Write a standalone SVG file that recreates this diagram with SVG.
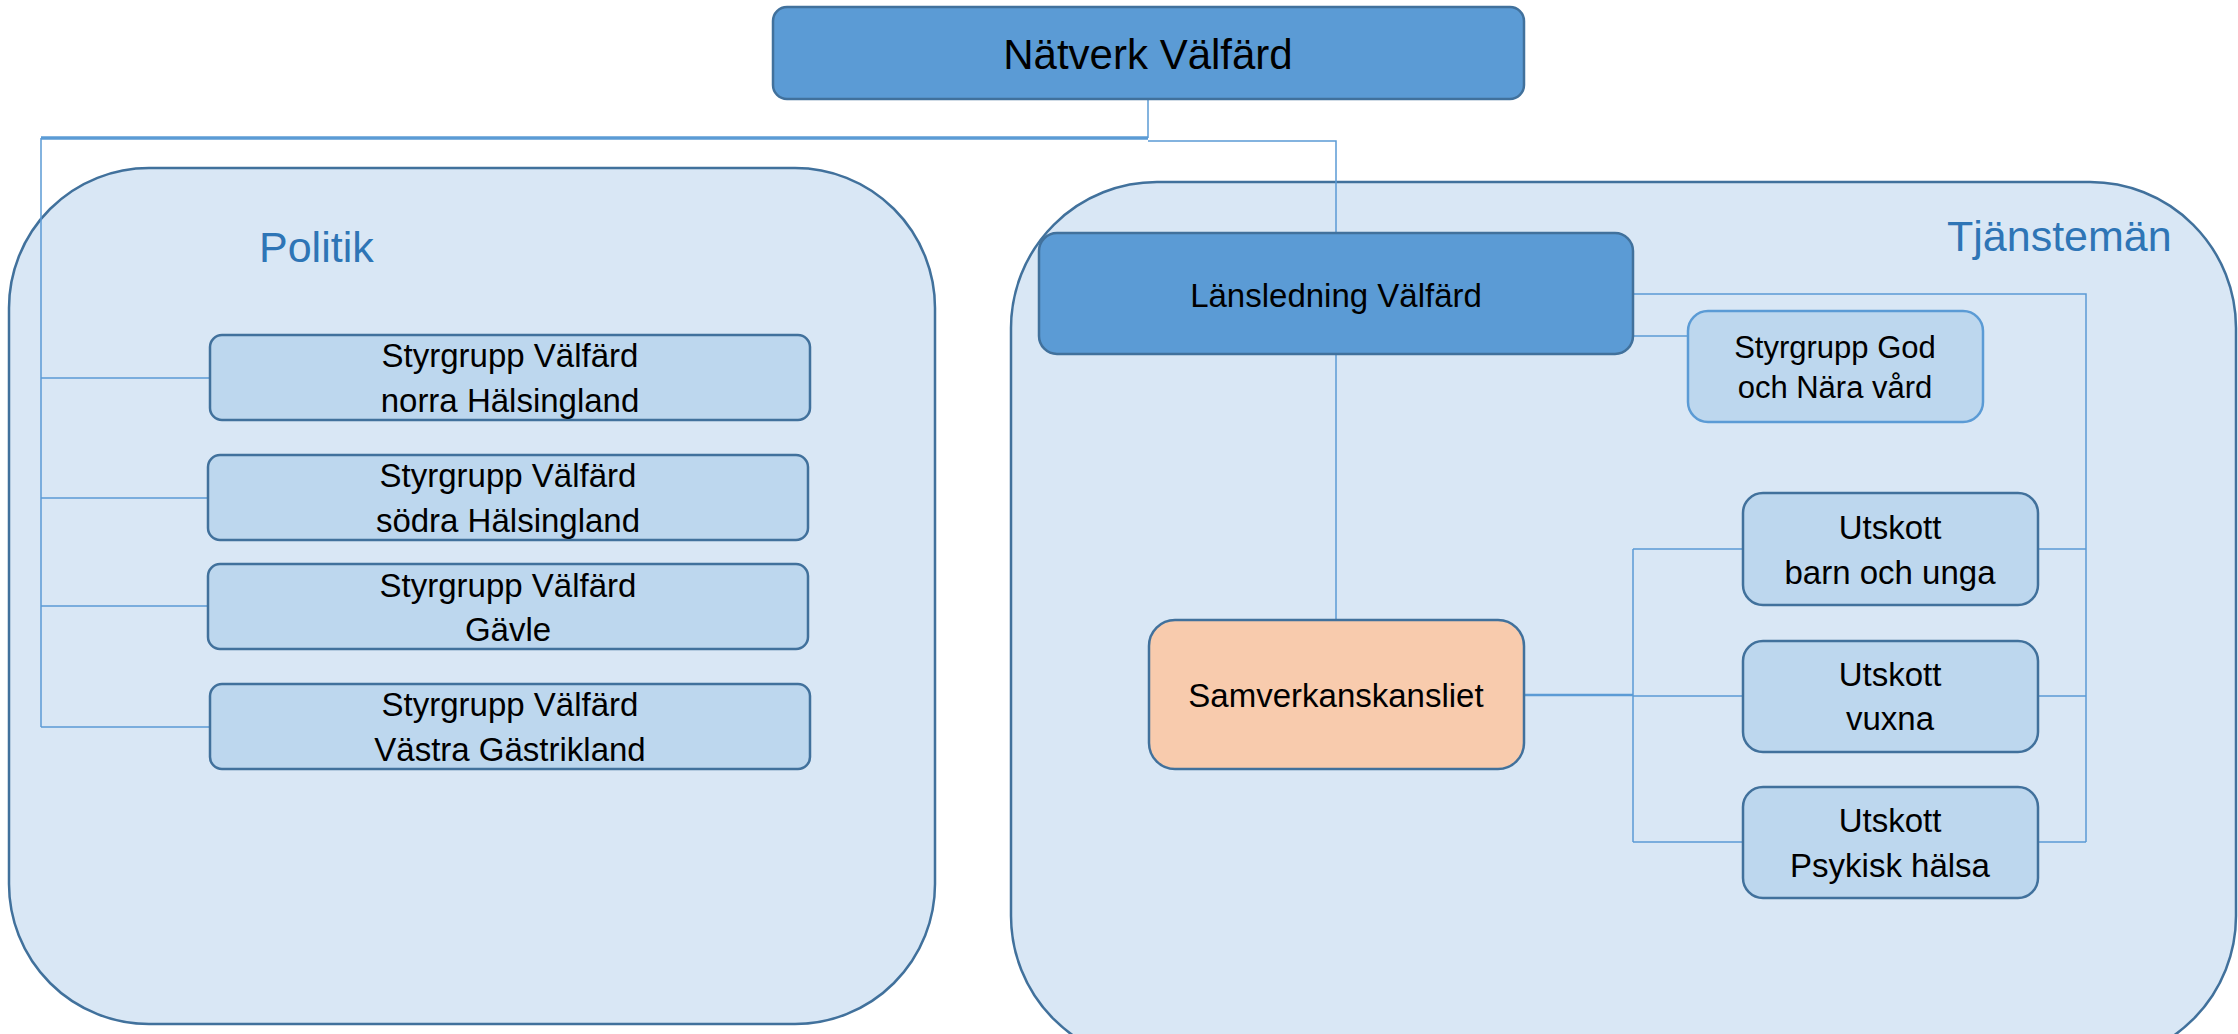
<svg xmlns="http://www.w3.org/2000/svg" width="2238" height="1034" viewBox="0 0 2238 1034">
<style>
.container{fill:#D9E7F5;stroke:#41719C;stroke-width:2.5}
.dark{fill:#5B9BD5;stroke:#41719C;stroke-width:2.5}
.light{fill:#BDD7EE;stroke:#41719C;stroke-width:2.5}
.lightb{fill:#BDD7EE;stroke:#5B9BD5;stroke-width:2.5}
.orange{fill:#F8CBAD;stroke:#41719C;stroke-width:2.5}
.conn{fill:none;stroke:#5B9BD5;stroke-width:1.5}
.t{font-family:"Liberation Sans",Arial,sans-serif;fill:#000;text-anchor:middle}
.hdr{font-family:"Liberation Sans",Arial,sans-serif;fill:#2E75B6;font-size:43px}
</style>
<rect width="2238" height="1034" fill="#FFFFFF"/>
<g id="politik">
<rect class="container" x="9" y="168" width="926" height="856" rx="140" ry="140"/>
<text class="hdr" x="259" y="262">Politik</text>
</g>
<g id="tjansteman">
<rect class="container" x="1011" y="182" width="1225" height="880" rx="146" ry="146"/>
<text class="hdr" x="1947" y="251">Tjänstemän</text>
</g>
<g id="connectors">
<path class="conn" d="M1148 99 V138" />
<path class="conn" style="stroke-width:3.5" d="M1148 138 H41"/>
<path class="conn" d="M41 138 V727 M41 378 H210 M41 498 H208 M41 606 H208 M41 727 H210"/>
<path class="conn" d="M1148 141 H1336 V233"/>
<path class="conn" d="M1336 354 V620"/>
<path class="conn" d="M1633 294 H2086 V842 M2038 549 H2086 M2038 696 H2086 M2038 842 H2086"/>
<path class="conn" d="M1633 336 H1688"/>
<path class="conn" style="stroke-width:2.5" d="M1524 695 H1633"/>
<path class="conn" d="M1633 549 V842 M1633 549 H1743 M1633 696 H1743 M1633 842 H1743"/>
</g>
<g id="natverk">
<rect class="dark" x="773" y="7" width="751" height="92" rx="14"/>
<text class="t" x="1148" y="69" font-size="42">Nätverk Välfärd</text>
</g>
<g id="lansledning">
<rect class="dark" x="1039" y="233" width="594" height="121" rx="18"/>
<text class="t" x="1336" y="307" font-size="33">Länsledning Välfärd</text>
</g>
<g id="sg-norra">
<rect class="light" x="210" y="335" width="600" height="85" rx="12"/>
<text class="t" x="510" y="367" font-size="33">Styrgrupp Välfärd</text>
<text class="t" x="510" y="412" font-size="33">norra Hälsingland</text>
</g>
<g id="sg-sodra">
<rect class="light" x="208" y="455" width="600" height="85" rx="12"/>
<text class="t" x="508" y="487" font-size="33">Styrgrupp Välfärd</text>
<text class="t" x="508" y="532" font-size="33">södra Hälsingland</text>
</g>
<g id="sg-gavle">
<rect class="light" x="208" y="564" width="600" height="85" rx="12"/>
<text class="t" x="508" y="597" font-size="33">Styrgrupp Välfärd</text>
<text class="t" x="508" y="641" font-size="33">Gävle</text>
</g>
<g id="sg-vastra">
<rect class="light" x="210" y="684" width="600" height="85" rx="12"/>
<text class="t" x="510" y="716" font-size="33">Styrgrupp Välfärd</text>
<text class="t" x="510" y="761" font-size="33">Västra Gästrikland</text>
</g>
<g id="sg-god">
<rect class="lightb" x="1688" y="311" width="295" height="111" rx="20"/>
<text class="t" x="1835" y="358" font-size="31">Styrgrupp God</text>
<text class="t" x="1835" y="398" font-size="31">och Nära vård</text>
</g>
<g id="samverkan">
<rect class="orange" x="1149" y="620" width="375" height="149" rx="26"/>
<text class="t" x="1336" y="707" font-size="33">Samverkanskansliet</text>
</g>
<g id="ut-barn">
<rect class="light" x="1743" y="493" width="295" height="112" rx="20"/>
<text class="t" x="1890" y="539" font-size="33">Utskott</text>
<text class="t" x="1890" y="584" font-size="33">barn och unga</text>
</g>
<g id="ut-vuxna">
<rect class="light" x="1743" y="641" width="295" height="111" rx="20"/>
<text class="t" x="1890" y="686" font-size="33">Utskott</text>
<text class="t" x="1890" y="730" font-size="33">vuxna</text>
</g>
<g id="ut-psykisk">
<rect class="light" x="1743" y="787" width="295" height="111" rx="20"/>
<text class="t" x="1890" y="832" font-size="33">Utskott</text>
<text class="t" x="1890" y="877" font-size="33">Psykisk hälsa</text>
</g>
</svg>
